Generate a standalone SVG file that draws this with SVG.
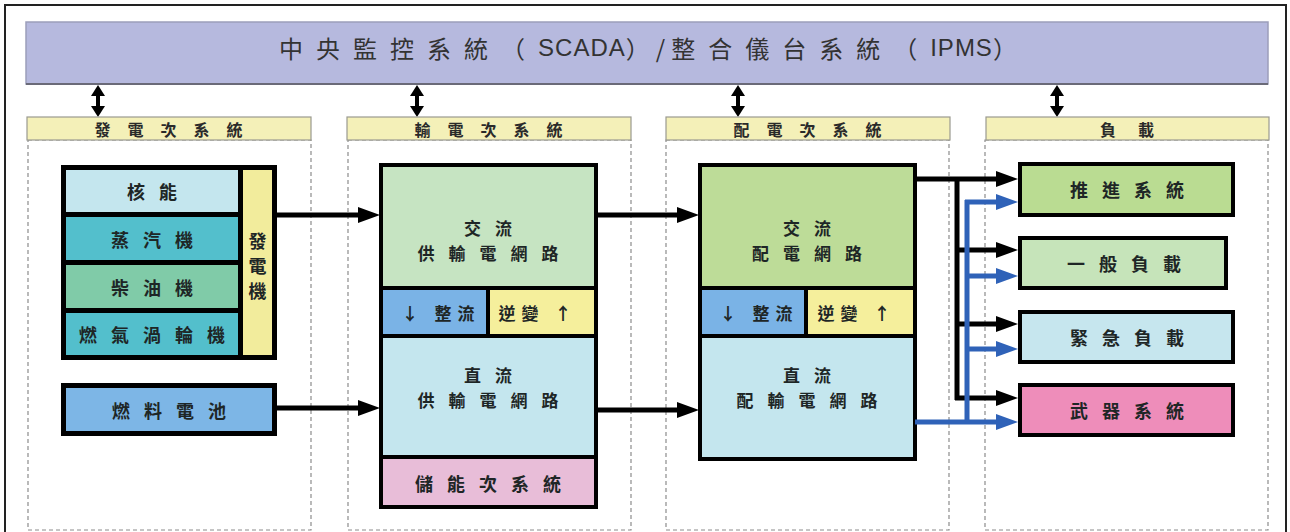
<svg xmlns="http://www.w3.org/2000/svg" width="1290" height="532" viewBox="0 0 1290 532">
<style>
.cjk{font-family:"Noto Sans CJK TC","Noto Sans CJK SC",sans-serif;}
.lbl{font-family:"Noto Sans CJK TC","Noto Sans CJK SC",sans-serif;font-size:18px;font-weight:700;fill:#1e2626;letter-spacing:14px;text-anchor:middle;dominant-baseline:central;}
.lbl2{font-family:"Noto Sans CJK TC","Noto Sans CJK SC",sans-serif;font-size:17px;font-weight:700;fill:#1e2626;letter-spacing:14px;text-anchor:middle;dominant-baseline:central;}
.vert{font-family:"Noto Sans CJK TC","Noto Sans CJK SC",sans-serif;font-size:18px;font-weight:700;fill:#1e2626;text-anchor:middle;dominant-baseline:central;}
.hdr{font-family:"Noto Sans CJK TC","Noto Sans CJK SC",sans-serif;font-size:16px;font-weight:700;fill:#2a2a2a;letter-spacing:17px;text-anchor:middle;dominant-baseline:central;}
.hdr2{font-family:"Noto Sans CJK TC","Noto Sans CJK SC",sans-serif;font-size:16px;font-weight:700;fill:#2a2a2a;letter-spacing:22px;text-anchor:middle;dominant-baseline:central;}
.sm{font-family:"Noto Sans CJK TC","Noto Sans CJK SC",sans-serif;font-size:17px;font-weight:700;fill:#1e2626;letter-spacing:6px;text-anchor:middle;dominant-baseline:central;}
.box{stroke:#000;stroke-width:4;}
.dash{fill:none;stroke:#8c8c8c;stroke-width:1.2;stroke-dasharray:4 3;}
.hbar{fill:#f4f0b8;stroke:#9a9a90;stroke-width:1.2;}
.blk{fill:none;stroke:#000;stroke-width:5;}
.blu{fill:none;stroke:#2f62b8;stroke-width:5;}
.dbl{fill:none;stroke:#000;stroke-width:4;}
</style>
<defs>
<marker id="ab" markerUnits="userSpaceOnUse" markerWidth="22" markerHeight="16" refX="4" refY="8" orient="auto"><path d="M0,0 L22,8 L0,16 Z" fill="#000"/></marker>
<marker id="abl" markerUnits="userSpaceOnUse" markerWidth="22" markerHeight="16" refX="4" refY="8" orient="auto"><path d="M0,0 L22,8 L0,16 Z" fill="#2f62b8"/></marker>
<marker id="dh" markerUnits="userSpaceOnUse" markerWidth="12" markerHeight="14" refX="2" refY="7" orient="auto-start-reverse"><path d="M0,0 L11,7 L0,14 Z" fill="#000"/></marker>
</defs>
<rect x="0" y="0" width="1290" height="532" fill="#fff"/>
<rect x="5" y="5" width="1281" height="600" fill="none" stroke="#222" stroke-width="2"/>

<g id="banner">
<rect x="26" y="22" width="1242" height="62" fill="#b6b9de" stroke="#9c9eba" stroke-width="1.5"/>
<line x1="26" y1="84" x2="1268" y2="84" stroke="#6a6a78" stroke-width="2"/>
<text x="648" y="47" text-anchor="middle" dominant-baseline="central" font-size="24" fill="#333" class="cjk"><tspan letter-spacing="13">中央監控系統（</tspan><tspan font-family="Liberation Sans, sans-serif" letter-spacing="1">SCADA</tspan><tspan letter-spacing="6">）/</tspan><tspan letter-spacing="13">整合儀台系統（</tspan><tspan font-family="Liberation Sans, sans-serif" letter-spacing="1">IPMS</tspan><tspan>）</tspan></text>
</g>

<g id="links-scada">
<line class="dbl" x1="98" y1="94" x2="98" y2="108" marker-start="url(#dh)" marker-end="url(#dh)"/>
<line class="dbl" x1="417" y1="94" x2="417" y2="108" marker-start="url(#dh)" marker-end="url(#dh)"/>
<line class="dbl" x1="738" y1="94" x2="738" y2="108" marker-start="url(#dh)" marker-end="url(#dh)"/>
<line class="dbl" x1="1057" y1="94" x2="1057" y2="108" marker-start="url(#dh)" marker-end="url(#dh)"/>
</g>

<g id="gen-subsystem">
<rect class="dash" x="28" y="140" width="283" height="390"/>
<rect class="hbar" x="27" y="117" width="284" height="23"/>
<text class="hdr" x="177" y="129">發電次系統</text>
</g>
<g id="trans-subsystem">
<rect class="dash" x="348" y="140" width="283" height="390"/>
<rect class="hbar" x="347" y="117" width="284" height="23"/>
<text class="hdr" x="497" y="129">輸電次系統</text>
</g>
<g id="dist-subsystem">
<rect class="dash" x="666" y="140" width="283" height="390"/>
<rect class="hbar" x="666" y="117" width="284" height="23"/>
<text class="hdr" x="816" y="129">配電次系統</text>
</g>
<g id="load-subsystem">
<rect class="dash" x="985" y="140" width="283" height="390"/>
<rect class="hbar" x="986" y="117" width="283" height="23"/>
<text class="hdr2" x="1138" y="129">負載</text>
</g>

<g id="generators">
<rect x="61" y="165" width="216" height="195" fill="#000"/>
<rect x="66" y="170" width="172" height="42" fill="#c4e6ee"/>
<text class="lbl" x="159" y="191">核能</text>
<rect x="66" y="217" width="172" height="43" fill="#53bfcc"/>
<text class="lbl" x="159" y="239">蒸汽機</text>
<rect x="66" y="265" width="172" height="43" fill="#80cba8"/>
<text class="lbl" x="159" y="287">柴油機</text>
<rect x="66" y="313" width="172" height="42" fill="#53bfcc"/>
<text class="lbl" x="159" y="334">燃氣渦輪機</text>
<rect x="243" y="170" width="29" height="185" fill="#f2ec9c"/>
<text class="vert" x="257.5" y="240">發</text>
<text class="vert" x="257.5" y="265">電</text>
<text class="vert" x="257.5" y="290">機</text>
</g>

<g id="fuel-cell">
<rect x="61" y="383" width="216" height="53" fill="#000"/>
<rect x="66" y="388" width="206" height="43" fill="#7db6e6"/>
<text class="lbl" x="176" y="410">燃料電池</text>
</g>

<g id="transmission">
<rect class="box" x="381" y="165" width="215" height="123" fill="#c6e4c2"/>
<text class="lbl2" x="495" y="227">交流</text>
<text class="lbl2" x="495" y="252">供輸電網路</text>
<rect class="box" x="381" y="288" width="107" height="48" fill="#7ab3e6"/>
<text class="sm" x="441" y="312">↓ 整流</text>
<rect class="box" x="488" y="288" width="108" height="48" fill="#f5ef9c"/>
<text class="sm" x="538" y="312">逆變 ↑</text>
<rect class="box" x="381" y="336" width="215" height="121" fill="#c4e6ee"/>
<text class="lbl2" x="495" y="374">直流</text>
<text class="lbl2" x="495" y="399">供輸電網路</text>
<rect class="box" x="381" y="457" width="215" height="50" fill="#e8bdd8"/>
<text class="lbl" x="495" y="483">儲能次系統</text>
</g>

<g id="distribution">
<rect class="box" x="700" y="165" width="215" height="123" fill="#bddc98"/>
<text class="lbl2" x="814" y="227">交流</text>
<text class="lbl2" x="814" y="252">配電網路</text>
<rect class="box" x="700" y="288" width="106" height="48" fill="#7ab3e6"/>
<text class="sm" x="759" y="312">↓ 整流</text>
<rect class="box" x="806" y="288" width="109" height="48" fill="#f5ef9c"/>
<text class="sm" x="857" y="312">逆變 ↑</text>
<rect class="box" x="700" y="336" width="215" height="123" fill="#c4e6ee"/>
<text class="lbl2" x="814" y="374">直流</text>
<text class="lbl2" x="814" y="399">配輸電網路</text>
</g>

<g id="load-propulsion">
<rect class="box" x="1020" y="164" width="213" height="51" fill="#badc92"/>
<text class="lbl" x="1134" y="189">推進系統</text>
</g>
<g id="load-general">
<rect class="box" x="1020" y="238" width="206" height="50" fill="#c6e4ba"/>
<text class="lbl" x="1131" y="263">一般負載</text>
</g>
<g id="load-emergency">
<rect class="box" x="1020" y="312" width="213" height="50" fill="#c6e6ee"/>
<text class="lbl" x="1134" y="337">緊急負載</text>
</g>
<g id="load-weapons">
<rect class="box" x="1020" y="385" width="213" height="50" fill="#ee8dba"/>
<text class="lbl" x="1134" y="410">武器系統</text>
</g>

<g id="connectors">
<path class="blk" d="M277,215 H362" marker-end="url(#ab)"/>
<path class="blk" d="M277,408 H362" marker-end="url(#ab)"/>
<path class="blk" d="M596,215 H681" marker-end="url(#ab)"/>
<path class="blk" d="M596,410 H681" marker-end="url(#ab)"/>
<path class="blk" d="M915,179 H1000" marker-end="url(#ab)"/>
<path class="blk" d="M957,179 V400"/>
<path class="blk" d="M955,250 H1000" marker-end="url(#ab)"/>
<path class="blk" d="M955,324 H1000" marker-end="url(#ab)"/>
<path class="blk" d="M955,398 H1000" marker-end="url(#ab)"/>
<path class="blu" d="M915,422 H1000" marker-end="url(#abl)"/>
<path class="blu" d="M967,200 V422"/>
<path class="blu" d="M965,202 H1000" marker-end="url(#abl)"/>
<path class="blu" d="M967,276 H1000" marker-end="url(#abl)"/>
<path class="blu" d="M967,349 H1000" marker-end="url(#abl)"/>
</g>
</svg>
